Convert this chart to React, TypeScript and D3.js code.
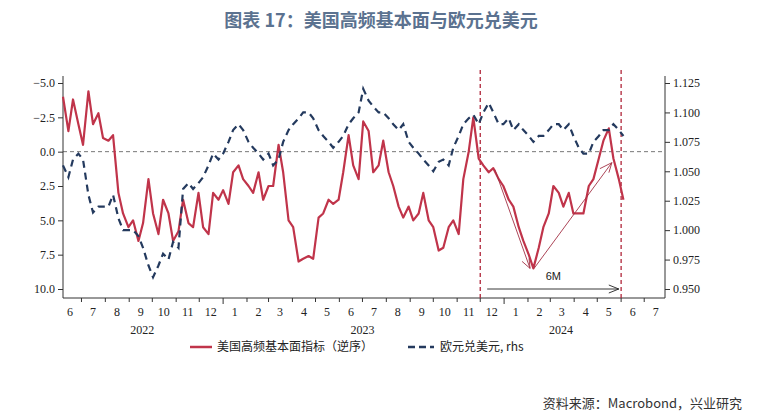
import React, { useEffect, useRef } from 'react';
import * as d3 from 'd3';

const redValues = [
  -4.0, -1.5, -3.8, -2.0,
  -0.5, -4.4, -2.0, -2.8, -1.0,
  -0.8, -1.2, 3.0, 4.5, 5.5,
  5.0, 6.5, 5.2, 2.0, 4.5,
  6.0, 3.5, 4.5, 6.5,
  5.8, 3.5, 5.2, 5.5, 3.0,
  5.5, 6.0, 3.0, 3.5,
  2.8, 3.8, 1.5, 1.0, 2.0,
  2.5, 3.0, 1.5, 3.5,
  2.5, 2.5, -0.5, 1.5, 5.0,
  5.5, 8.0, 7.8, 7.6,
  7.8, 4.8, 4.5, 3.5, 3.8,
  3.5, 1.5, -1.2, 1.0, 2.0,
  -2.2, -1.5, 1.5, 1.0, -0.8,
  1.5, 2.5, 4.0, 4.8,
  4.0, 5.0, 4.5, 3.0, 5.0,
  5.5, 7.2, 7.0, 5.5,
  5.0, 6.0, 2.0, 0.0, -2.5,
  0.5, 1.0, 1.5, 1.2, 2.0,
  2.5, 3.5, 4.0, 5.5, 6.5,
  7.5, 8.5, 7.0, 5.5,
  4.5, 2.5, 3.0, 4.0, 3.0,
  4.5, 4.5, 4.5, 2.5, 2.0,
  0.5, -0.8, -1.7, 0.5,
  2.0, 3.5,
];

const eurValues = [
  1.055, 1.045, 1.06, 1.065,
  1.06, 1.03, 1.015, 1.02, 1.02,
  1.02, 1.03, 1.01, 1.0, 1.0,
  1.0, 0.995, 0.985, 0.97, 0.96,
  0.97, 0.98, 0.975, 0.99,
  0.985, 1.035, 1.04, 1.035, 1.04,
  1.045, 1.055, 1.065, 1.06,
  1.065, 1.075, 1.085, 1.09, 1.085,
  1.075, 1.07, 1.065, 1.06,
  1.065, 1.055, 1.06, 1.075, 1.085,
  1.09, 1.095, 1.1, 1.1,
  1.095, 1.085, 1.08, 1.075, 1.07,
  1.075, 1.08, 1.09, 1.095, 1.1,
  1.12, 1.11, 1.105, 1.1, 1.1,
  1.095, 1.09, 1.085, 1.09,
  1.075, 1.07, 1.065, 1.06, 1.055,
  1.05, 1.058, 1.06, 1.055,
  1.07, 1.08, 1.09, 1.095, 1.098,
  1.09, 1.1, 1.108, 1.1, 1.09,
  1.09, 1.095, 1.085, 1.09, 1.085,
  1.08, 1.075, 1.08, 1.08,
  1.085, 1.09, 1.09, 1.085, 1.09,
  1.08, 1.07, 1.065, 1.065, 1.075,
  1.08, 1.085, 1.085, 1.09,
  1.085, 1.08,
];

const leftTicks = [-5, -2.5, 0, 2.5, 5, 7.5, 10];
const rightTicks = [0.95, 0.975, 1.0, 1.025, 1.05, 1.075, 1.1, 1.125];
const yearLabels = [
  { year: 2022, at: new Date(2022, 8, 18) },
  { year: 2023, at: new Date(2023, 6, 1) },
  { year: 2024, at: new Date(2024, 2, 15) },
];
const markerDates = [new Date(2023, 11, 1), new Date(2024, 5, 1)];

const start = new Date(2022, 5, 7);
const dateAt = (i: number) => d3.timeDay.offset(start, Math.round(i * 6.5));

export default function App() {
  const ref = useRef<SVGSVGElement | null>(null);

  useEffect(() => {
    const svg = d3.select(ref.current);
    svg.selectAll('*').remove();
    const font = '"Liberation Serif", "Times New Roman", serif';
    const cjk = '"Noto Sans CJK SC", sans-serif';

    const x = d3.scaleTime().domain([start, new Date(2024, 6, 28)]).range([63, 665]);
    const yL = d3.scaleLinear().domain([-5, 10]).range([83, 289]);
    const yR = d3.scaleLinear().domain([0.95, 1.125]).range([289, 83]);

    svg.append('text').attr('x', 381).attr('y', 27).attr('text-anchor', 'middle')
      .attr('font-family', cjk).attr('font-weight', 'bold').attr('font-size', 18)
      .attr('fill', '#5b7290').text('图表 17：美国高频基本面与欧元兑美元');

    svg.append('line').attr('x1', 63).attr('x2', 665).attr('y1', yL(0)).attr('y2', yL(0))
      .attr('stroke', '#777').attr('stroke-dasharray', '4,3').attr('stroke-width', 1);

    const axL = svg.append('g').attr('transform', 'translate(63,0)')
      .call(d3.axisLeft(yL).tickValues(leftTicks).tickSize(5).tickFormat(d3.format('.1f') as any));
    const axR = svg.append('g').attr('transform', 'translate(665,0)')
      .call(d3.axisRight(yR).tickValues(rightTicks).tickSize(5).tickFormat(d3.format('.3f') as any));
    [axL, axR].forEach(a => {
      a.select('.domain').attr('stroke', '#333').attr('d', 'M0,76V298');
      a.selectAll('text').attr('font-family', font).attr('font-size', 12).attr('fill', '#222');
      a.selectAll('line').attr('stroke', '#333');
    });

    const months = d3.timeMonth.range(new Date(2022, 5, 1), new Date(2024, 7, 1));
    const gx = svg.append('g');
    gx.append('line').attr('x1', 63).attr('x2', 665).attr('y1', 298).attr('y2', 298).attr('stroke', '#333');
    months.forEach(m => {
      const xs = x(m);
      if (xs > 63 && xs < 665) {
        const big = m.getMonth() === 0;
        gx.append('line').attr('x1', xs).attr('x2', xs).attr('y1', 298).attr('y2', big ? 304 : 302).attr('stroke', '#333');
      }
      const mid = x(d3.timeDay.offset(m, 15));
      gx.append('text').attr('x', Math.max(mid, 68)).attr('y', 316).attr('text-anchor', 'middle')
        .attr('font-family', font).attr('font-size', 12).attr('fill', '#222').text(m.getMonth() + 1);
    });
    yearLabels.forEach(d => {
      gx.append('text').attr('x', x(d.at)).attr('y', 334).attr('text-anchor', 'middle')
        .attr('font-family', font).attr('font-size', 12).attr('fill', '#222').text(d.year);
    });

    markerDates.forEach(d => {
      svg.append('line').attr('x1', x(d)).attr('x2', x(d)).attr('y1', 70).attr('y2', 298)
        .attr('stroke', '#b0263a').attr('stroke-width', 1.3).attr('stroke-dasharray', '4,3');
    });

    const redLine = d3.line<number>().x((_, i) => x(dateAt(i))).y(d => yL(d));
    svg.append('path').datum(redValues).attr('fill', 'none').attr('stroke', '#c0344a')
      .attr('stroke-width', 2.2).attr('stroke-linejoin', 'round').attr('d', redLine);

    const eurLine = d3.line<number>().x((_, i) => x(dateAt(i))).y(d => yR(d));
    svg.append('path').datum(eurValues).attr('fill', 'none').attr('stroke', '#243a5e')
      .attr('stroke-width', 2.2).attr('stroke-dasharray', '7,5').attr('d', eurLine);

    const ann = svg.append('g').attr('stroke', '#a33044').attr('stroke-width', 0.9).attr('fill', 'none');
    const bx = x(new Date(2024, 1, 5)), by = yL(8.5);
    ann.append('line').attr('x1', x(new Date(2023, 11, 20))).attr('y1', yL(1.3)).attr('x2', bx - 1).attr('y2', by);
    ann.append('path').attr('d', `M${bx - 9},${by - 7}L${bx - 1},${by}L${bx - 2},${by - 10}`);
    ann.append('line').attr('x1', bx + 3).attr('y1', by).attr('x2', x(new Date(2024, 4, 20))).attr('y2', yL(0.8));
    const ex = x(new Date(2024, 4, 20)), ey = yL(0.8);
    ann.append('path').attr('d', `M${ex - 12},${ey + 6}L${ex},${ey}L${ex - 3},${ey + 10}`);
    const ay = yR(0.95);
    const ax1 = x(new Date(2023, 11, 10)), ax2 = x(new Date(2024, 4, 29));
    svg.append('line').attr('x1', ax1).attr('x2', ax2).attr('y1', ay).attr('y2', ay).attr('stroke', '#222').attr('stroke-width', 0.9);
    svg.append('path').attr('d', `M${ax2 - 10},${ay - 4}L${ax2},${ay}L${ax2 - 10},${ay + 4}`).attr('stroke', '#222').attr('fill', 'none').attr('stroke-width', 0.9);
    svg.append('text').attr('x', x(new Date(2024, 2, 5))).attr('y', ay - 9).attr('text-anchor', 'middle')
      .attr('font-family', '"Liberation Sans", sans-serif').attr('font-size', 11).attr('fill', '#222').text('6M');

    const lg = svg.append('g').attr('transform', 'translate(190,347)');
    lg.append('line').attr('x1', 0).attr('x2', 22).attr('stroke', '#c0344a').attr('stroke-width', 2.5);
    lg.append('text').attr('x', 27).attr('y', 4).attr('font-family', cjk).attr('font-size', 12).attr('fill', '#222').text('美国高频基本面指标（逆序）');
    lg.append('line').attr('x1', 218).attr('x2', 244).attr('stroke', '#243a5e').attr('stroke-width', 2.5).attr('stroke-dasharray', '7,4');
    lg.append('text').attr('x', 250).attr('y', 4).attr('font-family', cjk).attr('font-size', 12).attr('fill', '#222').text('欧元兑美元, rhs');

    svg.append('text').attr('x', 742).attr('y', 408).attr('text-anchor', 'end')
      .attr('font-family', cjk).attr('font-size', 13).attr('fill', '#333').text('资料来源：Macrobond，兴业研究');
  }, []);

  return <svg ref={ref} width={762} height={417} style={{ position: 'absolute', left: 0, top: 0, background: '#fff' }} />;
}
